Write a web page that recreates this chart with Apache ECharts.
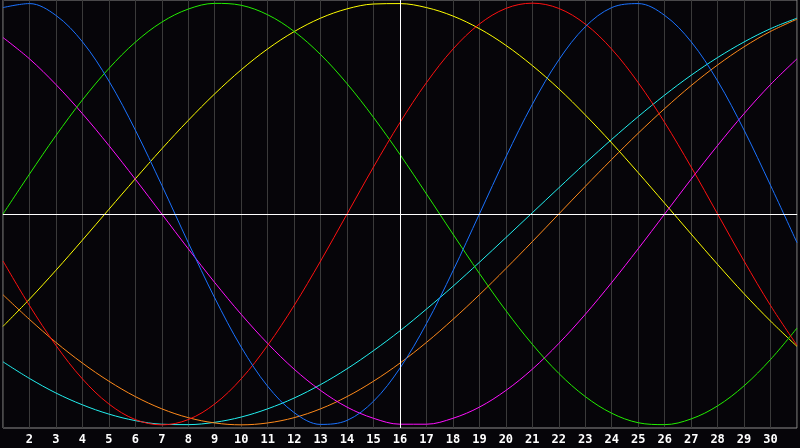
<!DOCTYPE html>
<html>
<head>
<meta charset="utf-8">
<script src="https://cdn.jsdelivr.net/npm/echarts@6/dist/echarts.min.js"></script>
<style>
html,body{margin:0;padding:0;background:#060509;}
#chart{width:800px;height:448px;}
</style>
</head>
<body>
<div id="chart"></div>
<script>
const days = [1,2,3,4,5,6,7,8,9,10,11,12,13,14,15,16,17,18,19,20,21,22,23,24,25,26,27,28,29,30,31];

const blue = [0.979,0.998,0.942,0.817,0.631,0.398,0.136,-0.136,-0.398,-0.631,-0.817,-0.942,-0.998,-0.979,-0.888,-0.731,-0.520,-0.270,0.000,0.270,0.520,0.731,0.888,0.979,0.998,0.942,0.817,0.631,0.398,0.136,-0.136];
const green = [0.000,0.189,0.372,0.541,0.690,0.815,0.910,0.972,0.999,0.990,0.945,0.866,0.756,0.618,0.458,0.282,0.095,-0.095,-0.282,-0.458,-0.618,-0.756,-0.866,-0.945,-0.990,-0.999,-0.972,-0.910,-0.815,-0.690,-0.541];
const red = [-0.223,-0.434,-0.623,-0.782,-0.901,-0.975,-1.000,-0.975,-0.901,-0.782,-0.623,-0.434,-0.223,0.000,0.223,0.434,0.623,0.782,0.901,0.975,1.000,0.975,0.901,0.782,0.623,0.434,0.223,0.000,-0.223,-0.434,-0.623];
const yellow = [-0.533,-0.404,-0.267,-0.124,0.022,0.167,0.309,0.444,0.570,0.684,0.783,0.865,0.929,0.973,0.996,0.998,0.979,0.939,0.879,0.800,0.704,0.594,0.470,0.337,0.196,0.051,-0.095,-0.239,-0.378,-0.508,-0.628];
const magenta = [0.837,0.736,0.614,0.476,0.325,0.165,0.000,-0.165,-0.325,-0.476,-0.614,-0.736,-0.837,-0.916,-0.969,-0.997,-0.997,-0.969,-0.916,-0.837,-0.736,-0.614,-0.476,-0.325,-0.165,0.000,0.165,0.325,0.476,0.614,0.736];
const cyan = [-0.701,-0.780,-0.849,-0.905,-0.949,-0.980,-0.997,-0.999,-0.988,-0.963,-0.924,-0.873,-0.809,-0.734,-0.648,-0.554,-0.451,-0.343,-0.229,-0.112,0.006,0.124,0.241,0.354,0.462,0.564,0.658,0.742,0.816,0.879,0.929];
const orange = [-0.383,-0.500,-0.609,-0.707,-0.793,-0.866,-0.924,-0.966,-0.991,-1.000,-0.991,-0.966,-0.924,-0.866,-0.793,-0.707,-0.609,-0.500,-0.383,-0.259,-0.131,0.000,0.131,0.259,0.383,0.500,0.609,0.707,0.793,0.866,0.924];

const markDay = 16;

function pts(arr){ return days.map((d,i)=>[d,arr[i]]); }

const chart = echarts.init(document.getElementById('chart'), null, {renderer:'canvas'});
const mk = (name, data, color, extra) => Object.assign({
  name, type:'line', data: pts(data), smooth:0.35, showSymbol:false, symbol:'none',
  lineStyle:{color, width:1}, itemStyle:{color}, silent:true
}, extra || {});

const borderColor = '#8c8c8c';

chart.setOption({
  animation:false,
  backgroundColor:'#060509',
  grid:{left:0, right:0, top:0, bottom:20, show:true, borderColor:borderColor, borderWidth:1, backgroundColor:'transparent'},
  xAxis:{
    type:'value', min:1, max:31, interval:1, position:'bottom',
    axisLine:{show:true, lineStyle:{color:borderColor, width:1}},
    axisTick:{show:false},
    axisLabel:{
      color:'#ffffff', fontFamily:'DejaVu Sans Mono', fontWeight:'bold', fontSize:12, margin:6,
      formatter: v => (v<=1 || v>=31) ? '' : String(v)
    },
    splitLine:{show:true, lineStyle:{color:'#3a3a3a', width:1}}
  },
  yAxis:{
    type:'value', min:-1.015, max:1.015,
    axisLine:{show:false}, axisTick:{show:false}, axisLabel:{show:false}, splitLine:{show:false}
  },
  series:[
    mk('cyan', cyan, '#22f0f0', {
      markLine:{silent:true, symbol:'none', label:{show:false},
        lineStyle:{color:'#ffffff', width:1, type:'solid'},
        data:[{xAxis:markDay},{yAxis:0}]}
    }),
    mk('orange', orange, '#ff8a1a'),
    mk('yellow', yellow, '#ffff00'),
    mk('magenta', magenta, '#ff10ff'),
    mk('green', green, '#22ee00'),
    mk('red', red, '#ff1010'),
    mk('blue', blue, '#1a72ff')
  ]
});
</script>
</body>
</html>
